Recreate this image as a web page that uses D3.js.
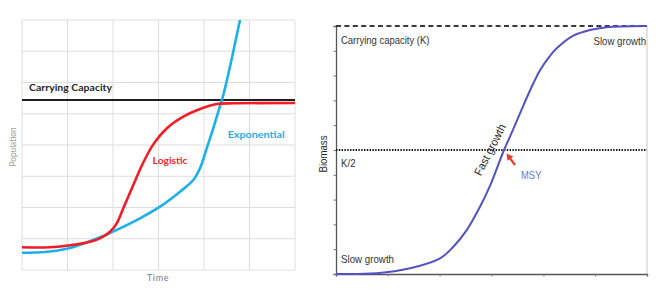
<!DOCTYPE html>
<html><head><meta charset="utf-8">
<script src="https://cdn.jsdelivr.net/npm/d3@7"></script>
<style>html,body{margin:0;padding:0;background:#fff;}svg{display:block;}</style>
</head><body>
<svg id="c" width="667" height="297"></svg>
<script>
// ---------- Left panel data (grid units: time 0..6, population 0..8) ----------
const leftTicksX = [0,1,2,3,4,5,6];
const leftTicksY = [0,1,2,3,4,5,6,7,8];
const carryingCapacity = 5.44;
const logisticT = [0,0.615,1.011,1.429,1.714,1.934,2.081,2.226,2.446,2.666,2.886,3.18,3.545,3.912,4.279,4.644,6];
const logisticP = [0.726,0.726,0.784,0.88,1.014,1.226,1.494,1.974,2.72,3.44,4.02,4.53,4.906,5.152,5.312,5.334,5.344];
const expT = [0,0.505,0.982,1.385,1.714,2.154,2.593,3.033,3.473,3.765,3.912,4.059,4.204,4.314,4.424,4.571,4.791];
const expP = [0.554,0.576,0.682,0.864,1.046,1.334,1.654,2.026,2.506,2.88,3.254,3.894,4.534,5.066,5.6,6.506,8.0];

// ---------- Right panel data (time 0..6, biomass 0..10, K = 10) ----------
const rightTicksX = [0,1,2,3,4,5,6];
const rightTicksY = [0,1,2,3,4,5,6,7,8,9,10];
const K = 10;
const bioT = [0,0.785,1.428,2.007,2.263,2.522,2.778,2.971,3.241,3.357,3.55,3.743,3.936,4.129,4.258,4.578,4.9,5.223,6];
const bioB = [0,0.03,0.23,0.63,1.1,1.77,2.71,3.55,5.0,5.54,6.48,7.4,8.22,8.8,9.1,9.61,9.84,9.95,10];
const msyPoint = [3.241, 5.0];

const svg = d3.select("#c");

// ================= LEFT PANEL =================
const lx = d3.scaleLinear().domain([0,6]).range([22,295]);
const ly = d3.scaleLinear().domain([0,8]).range([270,20]);
const L = svg.append("g");
L.append("defs").append("clipPath").attr("id","lclip")
  .append("rect").attr("x",lx(0)).attr("y",ly(8)).attr("width",lx(6)-lx(0)).attr("height",ly(0)-ly(8));

L.selectAll("line.gx").data(leftTicksX).join("line")
  .attr("x1",d=>lx(d)).attr("x2",d=>lx(d)).attr("y1",ly(0)).attr("y2",ly(8))
  .attr("stroke","#dedede").attr("stroke-width",1);
L.selectAll("line.gy").data(leftTicksY).join("line")
  .attr("y1",d=>ly(d)).attr("y2",d=>ly(d)).attr("x1",lx(0)).attr("x2",lx(6))
  .attr("stroke","#dedede").attr("stroke-width",1);

L.append("line").attr("x1",lx(0)).attr("x2",lx(6)).attr("y1",ly(carryingCapacity)).attr("y2",ly(carryingCapacity))
  .attr("stroke","#1e1e1e").attr("stroke-width",2.2);

const lineL = d3.line().x(d=>lx(d[0])).y(d=>ly(d[1])).curve(d3.curveCatmullRom.alpha(0.5));
L.append("path").datum(expT.map((t,i)=>[t,expP[i]])).attr("d",lineL)
  .attr("fill","none").attr("stroke","#1cb0ea").attr("stroke-width",2.6).attr("clip-path","url(#lclip)");
L.append("path").datum(logisticT.map((t,i)=>[t,logisticP[i]])).attr("d",lineL)
  .attr("fill","none").attr("stroke","#f41c24").attr("stroke-width",2.6);

const fL = "Lato, 'Open Sans', sans-serif";
L.append("text").attr("x",lx(0.155)).attr("y",ly(5.74)).text("Carrying Capacity")
  .attr("font-family",fL).attr("font-weight","bold").attr("font-size",10).attr("fill","#262626")
  .attr("textLength",83).attr("lengthAdjust","spacingAndGlyphs");
L.append("text").attr("x",lx(2.87)).attr("y",ly(3.38)).text("Logistic")
  .attr("font-family",fL).attr("font-weight","bold").attr("font-size",10).attr("fill","#f0282d")
  .attr("textLength",35).attr("lengthAdjust","spacingAndGlyphs");
L.append("text").attr("x",lx(4.52)).attr("y",ly(4.23)).text("Exponential")
  .attr("font-family",fL).attr("font-weight","bold").attr("font-size",10).attr("fill","#22aee8")
  .attr("textLength",57).attr("lengthAdjust","spacingAndGlyphs");
L.append("text").attr("x",(lx(0)+lx(6))/2-0.5).attr("y",281).attr("text-anchor","middle").text("Time")
  .attr("font-family",fL).attr("font-size",9).attr("fill","#7a7a7a").attr("letter-spacing",0.6);
L.append("text").attr("transform","translate(16,147) rotate(-90)").attr("text-anchor","middle").text("Population")
  .attr("font-family",fL).attr("font-size",9).attr("fill","#a0a0a0")
  .attr("textLength",39).attr("lengthAdjust","spacingAndGlyphs");

// ================= RIGHT PANEL =================
const rx = d3.scaleLinear().domain([0,6]).range([336,647]);
const ry = d3.scaleLinear().domain([0,10]).range([274,26]);
const R = svg.append("g");
const fR = "'Liberation Sans', Arial, sans-serif";

// right border
R.append("line").attr("x1",rx(6)).attr("x2",rx(6)).attr("y1",ry(0)).attr("y2",ry(K))
  .attr("stroke","#c8c8c8").attr("stroke-width",1);

// axes
const yAxis = d3.axisLeft(ry).tickValues(rightTicksY).tickSize(2.5).tickFormat("");
const xAxis = d3.axisBottom(rx).tickValues(rightTicksX).tickSize(2.5).tickFormat("");
const ga = R.append("g").attr("transform",`translate(${rx(0)},0)`).call(yAxis);
const gb = R.append("g").attr("transform",`translate(0,${ry(0)})`).call(xAxis);
[ga,gb].forEach(g=>{
  g.select(".domain").attr("stroke","#555").attr("stroke-width",1.3);
  g.selectAll(".tick line").attr("stroke","#777").attr("stroke-width",1);
});

// K dashed line
R.append("line").attr("x1",rx(0)).attr("x2",rx(6)).attr("y1",ry(K)).attr("y2",ry(K))
  .attr("stroke","#3a3a3a").attr("stroke-width",1.8).attr("stroke-dasharray","5,3.4");
// K/2 dotted line
R.append("line").attr("x1",rx(0)).attr("x2",rx(6)).attr("y1",ry(K/2)).attr("y2",ry(K/2))
  .attr("stroke","#111").attr("stroke-width",1.8).attr("stroke-dasharray","1.4,1.4");

const lineR = d3.line().x(d=>rx(d[0])).y(d=>ry(d[1])).curve(d3.curveCatmullRom.alpha(0.5));
R.append("path").datum(bioT.map((t,i)=>[t,bioB[i]])).attr("d",lineR)
  .attr("fill","none").attr("stroke","#5252c6").attr("stroke-width",2);

function rtext(x,y,s,len,opts={}){
  const t = R.append("text").attr("x",x).attr("y",y).text(s)
    .attr("font-family",fR).attr("font-size",opts.size||11.5).attr("fill",opts.fill||"#333");
  if(len) t.attr("textLength",len).attr("lengthAdjust","spacingAndGlyphs");
  if(opts.anchor) t.attr("text-anchor",opts.anchor);
  if(opts.transform) t.attr("transform",opts.transform);
  return t;
}
rtext(rx(0)+5, ry(K)+18, "Carrying capacity (K)", 88.5);
rtext(rx(6)-1, ry(K)+18.5, "Slow growth", 52.5, {anchor:"end"});
rtext(rx(0)+5, ry(K/2)+17, "K/2", 14.5);
rtext(rx(0)+5, ry(0)-11, "Slow growth", 53);
rtext(0,0,"Biomass",37,{anchor:"middle",transform:`translate(${rx(0)-9},${(ry(0)+ry(K))/2+4}) rotate(-90)`,fill:"#2a2a2a"});

// Fast growth (rotated along curve)
const fgx = rx(msyPoint[0]) - 10.5, fgy = ry(msyPoint[1]) + 1.5;
rtext(0,0,"Fast growth",56,{anchor:"middle",transform:`translate(${fgx},${fgy}) rotate(-63)`,fill:"#2a2a2a"});

// MSY label and arrow
const mx = rx(msyPoint[0]), my = ry(msyPoint[1]);
rtext(mx+17, my+29, "MSY", 20.5, {fill:"#7474d6"});
const ax0 = mx+11, ay0 = my+15, ax1 = mx+2.5, ay1 = my+3.5;
R.append("line").attr("x1",ax0).attr("y1",ay0).attr("x2",ax1+2.5).attr("y2",ay1+3.4)
  .attr("stroke","#ea3a2c").attr("stroke-width",2.2);
const ang = Math.atan2(ay1-ay0, ax1-ax0);
const hl = 6.5, hw = 3.6;
const bx = ax1 - hl*Math.cos(ang), by = ay1 - hl*Math.sin(ang);
R.append("path").attr("d",`M${ax1},${ay1}L${bx + hw*Math.sin(ang)},${by - hw*Math.cos(ang)}L${bx - hw*Math.sin(ang)},${by + hw*Math.cos(ang)}Z`)
  .attr("fill","#ea3a2c");
</script>
</body></html>
